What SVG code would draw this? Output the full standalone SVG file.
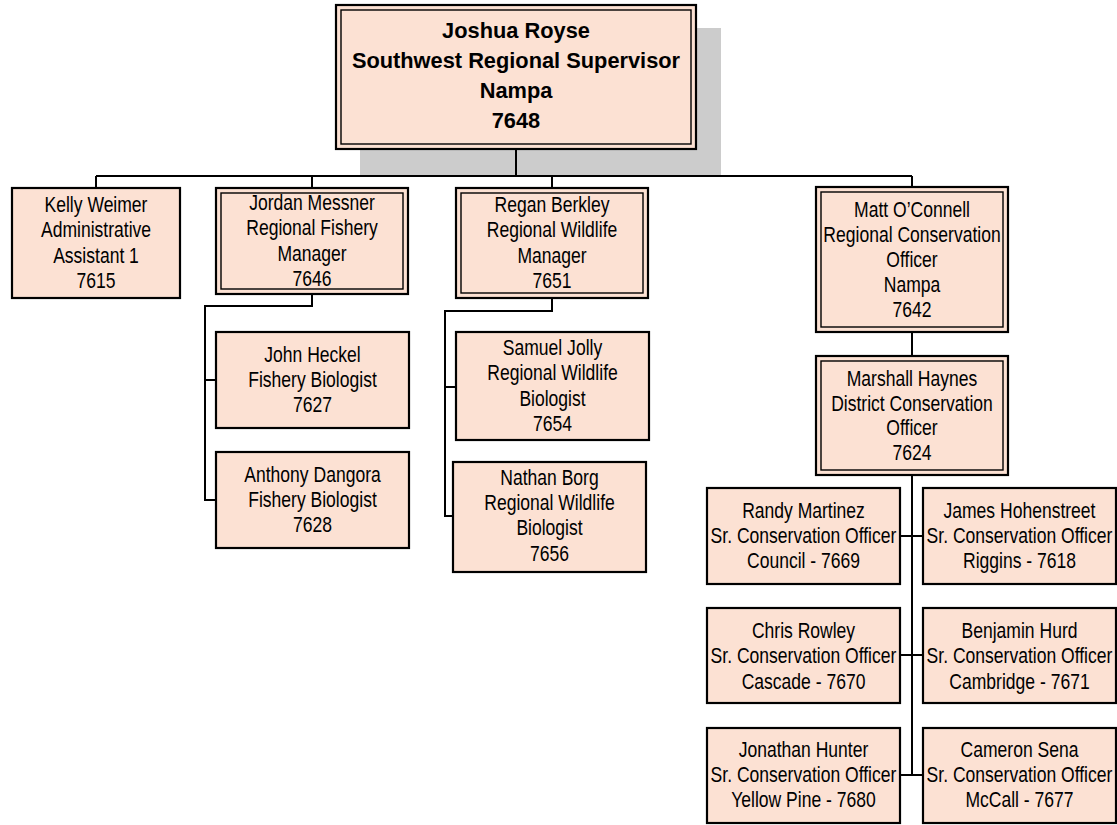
<svg xmlns="http://www.w3.org/2000/svg" width="1117" height="825" viewBox="0 0 1117 825">
<style>
.box{fill:#FCE1D3;stroke:#000;stroke-width:2.2}
.inner{fill:none;stroke:#000;stroke-width:1.4}
.conn{fill:none;stroke:#000;stroke-width:2}
.t{font-family:"Liberation Sans",Arial,sans-serif;font-size:21.4px;fill:#000;text-anchor:middle}
.tb{font-family:"Liberation Sans",Arial,sans-serif;font-size:21.8px;font-weight:bold;fill:#000;text-anchor:middle}
</style>
<rect width="1117" height="825" fill="#fff"/>
<rect x="360" y="28" width="361" height="147" fill="#CCCCCC"/>
<g id="connectors">
<path class="conn" d="M516 149V176M96 176H912M96 176V188M312 176V188M552 176V188M912 176V187"/>
<path class="conn" d="M312 294V306H205V500H216M205 380H216"/>
<path class="conn" d="M552 298V311H445V516H453M445 387H456"/>
<path class="conn" d="M912 332V356M912 475V775M900 536H923M900 655H923M900 775H923"/>
</g>
<g id="joshua">
<rect class="box" x="336" y="5" width="360" height="144"/>
<rect class="inner" x="341" y="10" width="350" height="134"/>
<text class="tb"><tspan x="516" y="38">Joshua Royse</tspan><tspan x="516" y="68">Southwest Regional Supervisor</tspan><tspan x="516" y="98">Nampa</tspan><tspan x="516" y="128">7648</tspan></text>
</g>
<g id="kelly">
<rect class="box" x="12" y="188" width="168" height="110"/>
<text class="t" transform="translate(96 0) scale(0.82 1)"><tspan x="0" y="212">Kelly Weimer</tspan><tspan x="0" y="237.3">Administrative</tspan><tspan x="0" y="262.6">Assistant 1</tspan><tspan x="0" y="287.9">7615</tspan></text>
</g>
<g id="jordan">
<rect class="box" x="216" y="188" width="192" height="106"/>
<rect class="inner" x="221" y="193" width="182" height="96"/>
<text class="t" transform="translate(312 0) scale(0.82 1)"><tspan x="0" y="210">Jordan Messner</tspan><tspan x="0" y="235.5">Regional Fishery</tspan><tspan x="0" y="261">Manager</tspan><tspan x="0" y="286.5">7646</tspan></text>
</g>
<g id="regan">
<rect class="box" x="456" y="188" width="192" height="110"/>
<rect class="inner" x="461" y="193" width="182" height="100"/>
<text class="t" transform="translate(552 0) scale(0.82 1)"><tspan x="0" y="212">Regan Berkley</tspan><tspan x="0" y="237.5">Regional Wildlife</tspan><tspan x="0" y="263">Manager</tspan><tspan x="0" y="288.5">7651</tspan></text>
</g>
<g id="matt">
<rect class="box" x="816" y="187" width="192" height="145"/>
<rect class="inner" x="821" y="192" width="182" height="135"/>
<text class="t" transform="translate(912 0) scale(0.82 1)"><tspan x="0" y="216.7">Matt O’Connell</tspan><tspan x="0" y="241.7">Regional Conservation</tspan><tspan x="0" y="266.7">Officer</tspan><tspan x="0" y="291.7">Nampa</tspan><tspan x="0" y="316.7">7642</tspan></text>
</g>
<g id="marshall">
<rect class="box" x="816" y="356" width="192" height="119"/>
<rect class="inner" x="821" y="361" width="182" height="109"/>
<text class="t" transform="translate(912 0) scale(0.82 1)"><tspan x="0" y="386.5">Marshall Haynes</tspan><tspan x="0" y="411">District Conservation</tspan><tspan x="0" y="435.5">Officer</tspan><tspan x="0" y="460">7624</tspan></text>
</g>
<g id="john">
<rect class="box" x="216" y="332" width="193" height="96"/>
<text class="t" transform="translate(312.5 0) scale(0.82 1)"><tspan x="0" y="361.7">John Heckel</tspan><tspan x="0" y="386.7">Fishery Biologist</tspan><tspan x="0" y="411.7">7627</tspan></text>
</g>
<g id="anthony">
<rect class="box" x="216" y="452" width="193" height="96"/>
<text class="t" transform="translate(312.5 0) scale(0.82 1)"><tspan x="0" y="481.7">Anthony Dangora</tspan><tspan x="0" y="506.7">Fishery Biologist</tspan><tspan x="0" y="531.7">7628</tspan></text>
</g>
<g id="samuel">
<rect class="box" x="456" y="332" width="193" height="108"/>
<text class="t" transform="translate(552.5 0) scale(0.82 1)"><tspan x="0" y="355">Samuel Jolly</tspan><tspan x="0" y="380.5">Regional Wildlife</tspan><tspan x="0" y="406">Biologist</tspan><tspan x="0" y="431.5">7654</tspan></text>
</g>
<g id="nathan">
<rect class="box" x="453" y="462" width="193" height="110"/>
<text class="t" transform="translate(549.5 0) scale(0.82 1)"><tspan x="0" y="485">Nathan Borg</tspan><tspan x="0" y="510.2">Regional Wildlife</tspan><tspan x="0" y="535.4">Biologist</tspan><tspan x="0" y="560.6">7656</tspan></text>
</g>
<g id="randy">
<rect class="box" x="707" y="488" width="193" height="96"/>
<text class="t" transform="translate(803.5 0) scale(0.82 1)"><tspan x="0" y="517.7">Randy Martinez</tspan><tspan x="0" y="543">Sr. Conservation Officer</tspan><tspan x="0" y="568.3">Council - 7669</tspan></text>
</g>
<g id="james">
<rect class="box" x="923" y="488" width="193" height="96"/>
<text class="t" transform="translate(1019.5 0) scale(0.82 1)"><tspan x="0" y="517.7">James Hohenstreet</tspan><tspan x="0" y="543">Sr. Conservation Officer</tspan><tspan x="0" y="568.3">Riggins - 7618</tspan></text>
</g>
<g id="chris">
<rect class="box" x="707" y="608" width="193" height="95"/>
<text class="t" transform="translate(803.5 0) scale(0.82 1)"><tspan x="0" y="638">Chris Rowley</tspan><tspan x="0" y="663.3">Sr. Conservation Officer</tspan><tspan x="0" y="688.6">Cascade - 7670</tspan></text>
</g>
<g id="benjamin">
<rect class="box" x="923" y="608" width="193" height="95"/>
<text class="t" transform="translate(1019.5 0) scale(0.82 1)"><tspan x="0" y="638">Benjamin Hurd</tspan><tspan x="0" y="663.3">Sr. Conservation Officer</tspan><tspan x="0" y="688.6">Cambridge - 7671</tspan></text>
</g>
<g id="jonathan">
<rect class="box" x="707" y="728" width="193" height="95"/>
<text class="t" transform="translate(803.5 0) scale(0.82 1)"><tspan x="0" y="756.7">Jonathan Hunter</tspan><tspan x="0" y="781.7">Sr. Conservation Officer</tspan><tspan x="0" y="806.7">Yellow Pine - 7680</tspan></text>
</g>
<g id="cameron">
<rect class="box" x="923" y="728" width="193" height="95"/>
<text class="t" transform="translate(1019.5 0) scale(0.82 1)"><tspan x="0" y="756.7">Cameron Sena</tspan><tspan x="0" y="781.7">Sr. Conservation Officer</tspan><tspan x="0" y="806.7">McCall - 7677</tspan></text>
</g>
</svg>
